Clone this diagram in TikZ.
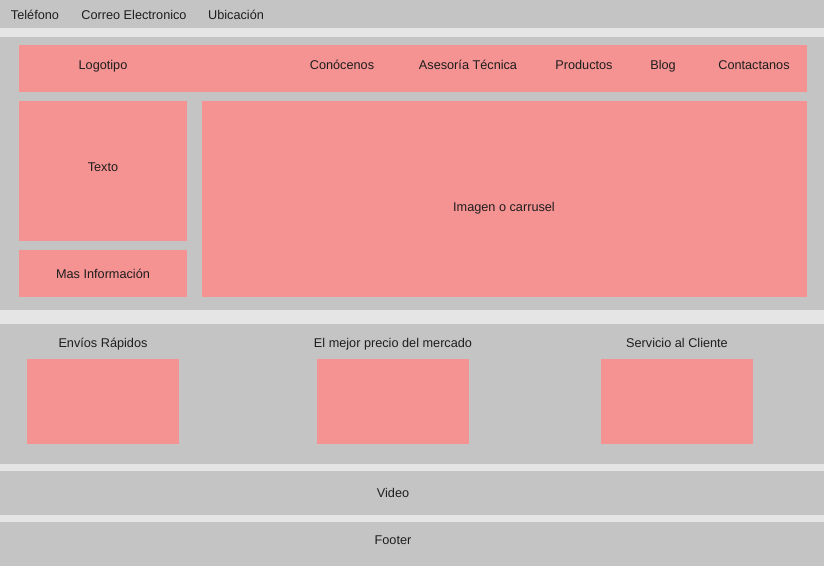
\documentclass[tikz,border=0pt]{standalone}
\usepackage{fontspec}
\setmainfont{Liberation Sans}
\usepackage{tikz}
\usetikzlibrary{positioning}

\definecolor{bandgray}{HTML}{C4C4C4}
\definecolor{pagegray}{HTML}{E5E5E5}
\definecolor{salmon}{HTML}{F59292}
\definecolor{inkdark}{HTML}{1E1E1E}

\tikzset{
  band/.style  = {fill=bandgray, draw=none, inner sep=0pt, outer sep=0pt, anchor=north west, minimum width=824pt},
  block/.style = {fill=salmon, draw=none, inner sep=0pt, outer sep=0pt},
  lbl/.style   = {text=inkdark, inner sep=0pt, text height=9.1pt, text depth=0pt,
                  font=\fontsize{12.7}{15}\selectfont}
}

\begin{document}
\begin{tikzpicture}[x=1pt, y=-1pt]

\fill [pagegray] (0,0) rectangle (824,566);
\useasboundingbox (0,0) rectangle (824,566);

% bands
\node [band, minimum height=28pt ] (topbar)   at (0,0)   {};
\node [band, minimum height=273pt] (hero)     at (0,37)  {};
\node [band, minimum height=140pt] (features) at (0,324) {};
\node [band, minimum height=44pt ] (video)    at (0,471) {};
\node [band, minimum height=44pt ] (footer)   at (0,522) {};

% top bar
\node [lbl] (tel)  at (35,14.5)  {Teléfono};
\node [lbl] (mail) at (134,14.5) {Correo Electronico};
\node [lbl] (ubic) at (236,14.5) {Ubicación};

% header
\node [block, minimum width=788pt, minimum height=47pt] (header) at (413,68.5) {};
\node [lbl] (logo)  at (103,64.5) {Logotipo};
\node [lbl] (conoc) at (342,64.5) {Conócenos};
\node [lbl] (aseso) at (468,64.5) {Asesoría Técnica};
\node [lbl] (prod)  at (584,64.5) {Productos};
\node [lbl] (blog)  at (663,64.5) {Blog};
\node [lbl] (cont)  at (754,64.5) {Contactanos};

% hero
\node [block, minimum width=168pt, minimum height=140pt] (textobox) at (103,171)   {};
\node [block, minimum width=168pt, minimum height=47pt ] (masbox)   at (103,273.5) {};
\node [block, minimum width=605pt, minimum height=196pt] (imgbox)   at (504.5,199) {};
\node [lbl] (texto)  at (103,166.5) {Texto};
\node [lbl] (masinf) at (103,273.5) {Mas Información};
\node [lbl] (imagen) at (504,206.5) {Imagen o carrusel};

% features
\node [block, minimum width=152pt, minimum height=85pt] (envbox)  at (103,401.5) {};
\node [block, minimum width=152pt, minimum height=85pt] (prebox)  at (393,401.5) {};
\node [block, minimum width=152pt, minimum height=85pt] (serbox)  at (677,401.5) {};
\node [lbl] (envios)   at (103,342.5) {Envíos Rápidos};
\node [lbl] (precio)   at (393,342.5) {El mejor precio del mercado};
\node [lbl] (servicio) at (677,342.5) {Servicio al Cliente};

% video and footer
\node [lbl] (videotxt)  at (393,492.5) {Video};
\node [lbl] (footertxt) at (393,539.5) {Footer};

\end{tikzpicture}
\end{document}
